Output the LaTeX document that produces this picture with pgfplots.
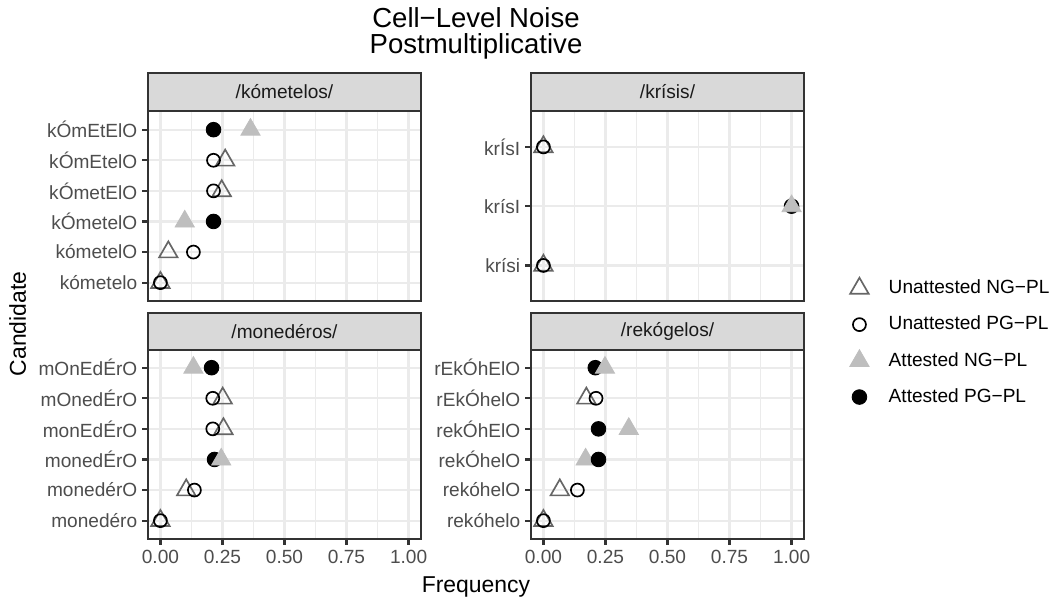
\documentclass[border=0pt]{standalone}
\usepackage{fontspec}
\setmainfont{Liberation Sans}
\usepackage{pgfplots}
\pgfplotsset{compat=1.18}
\definecolor{g92}{HTML}{EBEBEB}
\definecolor{g20}{HTML}{333333}
\definecolor{g30}{HTML}{4D4D4D}
\definecolor{g10}{HTML}{1A1A1A}
\definecolor{g85}{HTML}{D9D9D9}
\definecolor{ngopen}{HTML}{666666}
\definecolor{ngfill}{HTML}{BEBEBE}
\newcommand{\smallfont}{\fontsize{9.15}{11}\selectfont}
\pgfplotsset{
  facet/.style={
    width=130.4bp, height=90.6bp, scale only axis, anchor=south west,
    xmin=-0.05, xmax=1.05,
    xtick={0,0.25,0.5,0.75,1},
    minor xtick={0.125,0.375,0.625,0.875},
    xmajorgrids, xminorgrids, ymajorgrids,
    major grid style={draw=g92, line width=1.07bp},
    minor grid style={draw=g92, line width=0.53bp},
    axis line style={draw=g20, line width=1.07bp},
    tick align=outside, major tick length=2.75bp, minor tick length=0pt,
    tick pos=left,
    major tick style={draw=g20, line width=1.07bp},
    tick label style={font=\smallfont, text=g30},
    yticklabel style={inner sep=0pt, xshift=-2.2bp},
    xticklabel style={inner sep=0pt, yshift=-2.2bp},
    /pgf/number format/assume math mode=true,
  },
  toprow/.style={xticklabels={}, xtick style={draw=none}},
  botrow/.style={xticklabels={0.00,0.25,0.50,0.75,1.00}},
  six/.style={ymin=0.4, ymax=6.6, ytick={1,2,3,4,5,6}},
  three/.style={ymin=0.4, ymax=3.6, ytick={1,2,3}},
  ung/.style={only marks, color=ngopen, mark=triangle, mark size=5.1bp, mark options={draw=ngopen, fill=none, line width=0.8bp}},
  upg/.style={only marks, color=black, mark=o, mark size=3.1bp, mark options={draw=black, line width=0.8bp}},
  ang/.style={only marks, color=ngfill, mark=triangle*, mark size=5.3bp, mark options={draw=none, fill=ngfill}},
  apg/.style={only marks, color=black, mark=*, mark size=3.5bp, mark options={draw=none, fill=black}},
}
\begin{document}
\begin{tikzpicture}[x=0.4777bp,y=0.4777bp]
\path[use as bounding box] (0,0) rectangle (1055,602);
\coordinate (TL) at (148,301);
\coordinate (TR) at (531,301);
\coordinate (BL) at (148,63);
\coordinate (BR) at (531,63);
% title
\node[anchor=base, font=\fontsize{13.2}{15}\selectfont] at (476,575) {Cell−Level Noise};
\node[anchor=base, font=\fontsize{13.2}{15}\selectfont] at (476,549) {Postmultiplicative};
% top-left
\begin{axis}[facet, toprow, six, at={(TL)},
  yticklabels={kómetelo,kómetelO,kÓmetelO,kÓmetElO,kÓmEtelO,kÓmEtElO}]
\addplot[ung] coordinates {(0,1) (0.032,2) (0.247,4) (0.261,5)};
\addplot[upg] coordinates {(0,1) (0.133,2) (0.214,4) (0.214,5)};
\addplot[apg] coordinates {(0.214,3) (0.214,6)};
\addplot[ang] coordinates {(0.098,3) (0.363,6)};
\end{axis}
% top-right
\begin{axis}[facet, toprow, three, at={(TR)},
  yticklabels={krísi,krísI,krÍsI},
  legend style={draw=none, fill=none, at={(axis description cs:1.125,-0.22)}, anchor=west,
    font=\smallfont, row sep=0pt,
    nodes={inner sep=0pt, minimum height=17.3bp, anchor=west},
    /tikz/every odd column/.append style={column sep=7.0bp}},
  legend cell align=left,
  legend image code/.code={\draw[#1] plot coordinates {(7bp,0bp)};\path[draw=none,fill=none] (0bp,0bp) -- (14bp,0bp);}]
\addplot[ung] coordinates {(0,1) (0,3)};
\addlegendentry{Unattested NG−PL}
\addplot[upg] coordinates {(0,1) (0,3)};
\addlegendentry{Unattested PG−PL}
\addplot[apg, forget plot] coordinates {(1,2)};
\addplot[ang] coordinates {(1,2)};
\addlegendentry{Attested NG−PL}
\addlegendimage{apg}
\addlegendentry{Attested PG−PL}
\end{axis}
% bottom-left
\begin{axis}[facet, botrow, six, at={(BL)},
  yticklabels={monedéro,monedérO,monedÉrO,monEdÉrO,mOnedÉrO,mOnEdÉrO}]
\addplot[ung] coordinates {(0,1) (0.104,2) (0.254,4) (0.251,5)};
\addplot[upg] coordinates {(0,1) (0.137,2) (0.211,4) (0.211,5)};
\addplot[apg] coordinates {(0.218,3) (0.206,6)};
\addplot[ang] coordinates {(0.245,3) (0.133,6)};
\end{axis}
% bottom-right
\begin{axis}[facet, botrow, six, at={(BR)},
  yticklabels={rekóhelo,rekóhelO,rekÓhelO,rekÓhElO,rEkÓhelO,rEkÓhElO}]
\addplot[ung] coordinates {(0,1) (0.066,2) (0.173,5)};
\addplot[upg] coordinates {(0,1) (0.137,2) (0.212,5)};
\addplot[ang] coordinates {(0.170,3)};
\addplot[apg] coordinates {(0.222,3) (0.222,4) (0.209,6)};
\addplot[ang] coordinates {(0.344,4) (0.248,6)};
\end{axis}
% strips
\filldraw[fill=g85, draw=g20, line width=1.07bp] (148,529) rectangle (421,491);
\node[font=\smallfont, text=g10] at (284.5,510) {/kómetelos/};
\filldraw[fill=g85, draw=g20, line width=1.07bp] (531,529) rectangle (804,491);
\node[font=\smallfont, text=g10] at (667.5,510) {/krísis/};
\filldraw[fill=g85, draw=g20, line width=1.07bp] (148,289) rectangle (421,252);
\node[font=\smallfont, text=g10] at (284.5,270.5) {/monedéros/};
\filldraw[fill=g85, draw=g20, line width=1.07bp] (531,289) rectangle (804,252);
\node[font=\smallfont, text=g10] at (667.5,270.5) {/rekógelos/};
% axis titles
\node[anchor=base, font=\fontsize{11}{13}\selectfont] at (476,10) {Frequency};
\node[anchor=base, rotate=90, font=\fontsize{11}{13}\selectfont] at (26,278) {Candidate};
\end{tikzpicture}
\end{document}
